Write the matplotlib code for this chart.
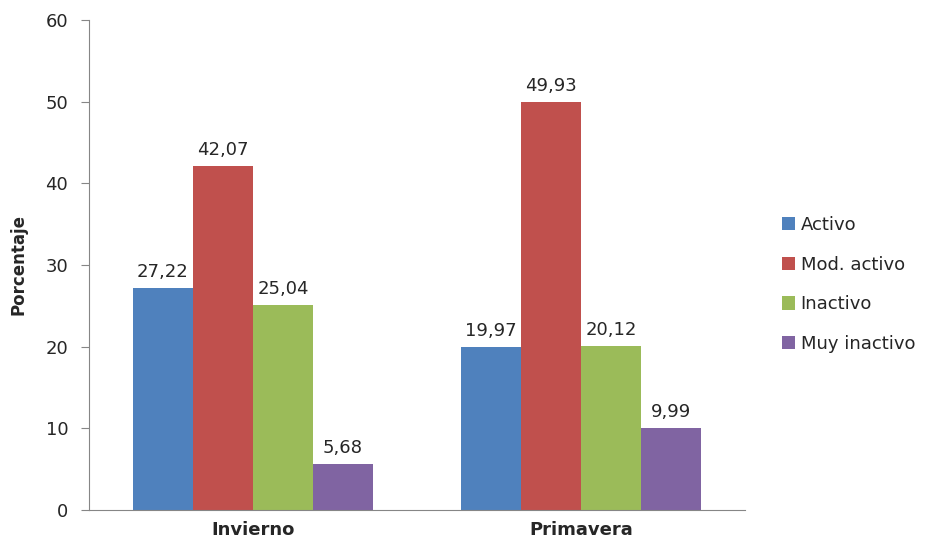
import matplotlib.pyplot as plt
import numpy as np

categorias = ['Invierno', 'Primavera']
series = ['Activo', 'Mod. activo', 'Inactivo', 'Muy inactivo']
activo = [27.22, 19.97]
mod_activo = [42.07, 49.93]
inactivo = [25.04, 20.12]
muy_inactivo = [5.68, 9.99]
colores = ['#4F81BD', '#C0504D', '#9BBB59', '#8064A2']

valores = [activo, mod_activo, inactivo, muy_inactivo]
texto = '#262626'

fig = plt.figure(figsize=(9.25, 5.39), dpi=100)
ax = fig.add_axes([0.0962, 0.054, 0.7092, 0.909])

x = np.arange(len(categorias))
ancho = 0.183
for i, (nombre, vals) in enumerate(zip(series, valores)):
    pos = x + (i - 1.5) * ancho
    barras = ax.bar(pos, vals, ancho, color=colores[i], label=nombre)
    for b, v in zip(barras, vals):
        ax.annotate(('%.2f' % v).replace('.', ','),
                    (b.get_x() + b.get_width() / 2, v),
                    xytext=(0, 5), textcoords='offset points',
                    ha='center', va='bottom', fontsize=13, color=texto)

ax.set_xlim(-0.5, 1.5)
ax.set_ylim(0, 60)
ax.set_yticks(range(0, 61, 10))
ax.set_xticks(x)
ax.set_xticklabels(categorias, fontsize=13, fontweight='bold', color=texto)
ax.tick_params(axis='x', length=0, pad=8)
ax.tick_params(axis='y', labelsize=13, labelcolor=texto, length=6,
               color='#868686', pad=9)
ax.set_ylabel('Porcentaje', fontsize=12, fontweight='bold', color=texto,
              labelpad=13)

for lado in ['top', 'right']:
    ax.spines[lado].set_visible(False)
for lado in ['left', 'bottom']:
    ax.spines[lado].set_color('#868686')

leg = ax.legend(loc='center left', bbox_to_anchor=(1.056, 0.46), frameon=False,
                fontsize=13, handlelength=0.75, handleheight=0.75,
                handletextpad=0.3, labelspacing=1.2, borderpad=0,
                borderaxespad=0)
for t in leg.get_texts():
    t.set_color(texto)

fig.savefig('out.png', dpi=100)
